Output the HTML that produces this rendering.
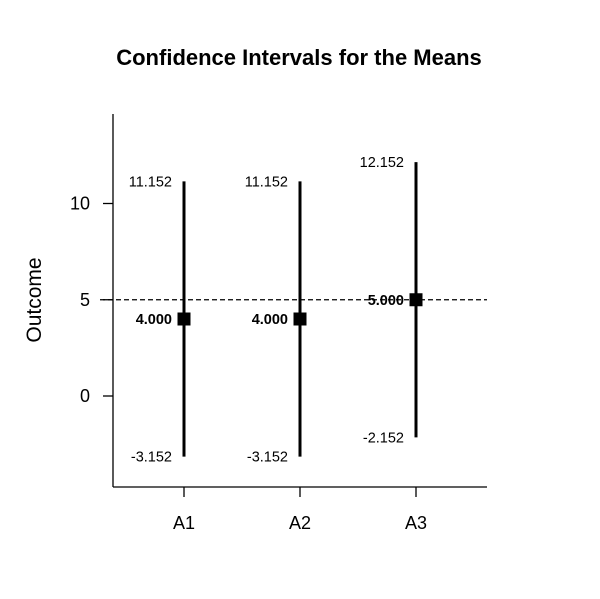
<!DOCTYPE html>
<html><head><meta charset="utf-8"><style>
html,body{margin:0;padding:0;background:#fff;}
svg{display:block;font-family:"Liberation Sans",Arial,sans-serif;}
</style></head><body>
<svg id="chart" width="600" height="599" viewBox="0 0 600 599">
<text x="299" y="65" text-anchor="middle" font-size="22" font-weight="bold">Confidence Intervals for the Means</text>
<text transform="translate(41,300) rotate(-90)" text-anchor="middle" font-size="21">Outcome</text>
<line x1="113" y1="114" x2="113" y2="487" stroke="#000" stroke-width="1.3"/>
<line x1="113" y1="487" x2="487" y2="487" stroke="#000" stroke-width="1.3"/>
<g id="ticks"></g>
<g id="marks"></g>
</svg>
<script>
const categories = ["A1","A2","A3"];
const means = [4.0, 4.0, 5.0];
const lowers = [-3.152, -3.152, -2.152];
const uppers = [11.152, 11.152, 12.152];
const yTicks = [0, 5, 10];
const refValue = 5;

const NS = "http://www.w3.org/2000/svg";
function y(v){ return 396 - v * 19.25; }
function x(i){ return 184 + i * 116; }
function mk(tag, attrs, parent, text){
  const e = document.createElementNS(NS, tag);
  for (const k in attrs) e.setAttribute(k, attrs[k]);
  if (text !== undefined) e.textContent = text;
  parent.appendChild(e);
  return e;
}
const ticks = document.getElementById("ticks");
const marks = document.getElementById("marks");
yTicks.forEach(t => {
  const l = mk("line", {x1:103, x2:113, y1:y(t), y2:y(t), stroke:"#000", "stroke-width":1.3}, ticks);
  
  
  const tx = mk("text", {x:90, y:y(t)+6, "text-anchor":"end", "font-size":18}, ticks, String(t));
  
  
});
categories.forEach((c, i) => {
  const l = mk("line", {x1:x(i), x2:x(i), y1:487, y2:497, stroke:"#000", "stroke-width":1.3}, ticks);
  
  
  const tx = mk("text", {x:x(i), y:529, "text-anchor":"middle", "font-size":18}, ticks, c);
  
  
});
const ref = mk("line", {x1:100, x2:487, y1:y(refValue), y2:y(refValue), stroke:"#000", "stroke-width":1.2, "stroke-dasharray":"5,3"}, marks);


categories.forEach((c, i) => {
  const cx = x(i);
  const ln = mk("line", {x1:cx, x2:cx, y1:y(uppers[i]), y2:y(lowers[i]), stroke:"#000", "stroke-width":3}, marks);
  
  
  const sq = mk("rect", {x:cx-6.5, y:y(means[i])-6.5, width:13, height:13, fill:"#000"}, marks);
  
  
  const ut = mk("text", {x:cx-12, y:y(uppers[i])+5, "text-anchor":"end", "font-size":14.5}, marks, uppers[i].toFixed(3));
  
  
  const lt = mk("text", {x:cx-12, y:y(lowers[i])+5, "text-anchor":"end", "font-size":14.5}, marks, lowers[i].toFixed(3));
  
  
  const mt = mk("text", {x:cx-12, y:y(means[i])+5, "text-anchor":"end", "font-size":14.5, "font-weight":"bold"}, marks, means[i].toFixed(3));
  
  
});
</script>
</body></html>
